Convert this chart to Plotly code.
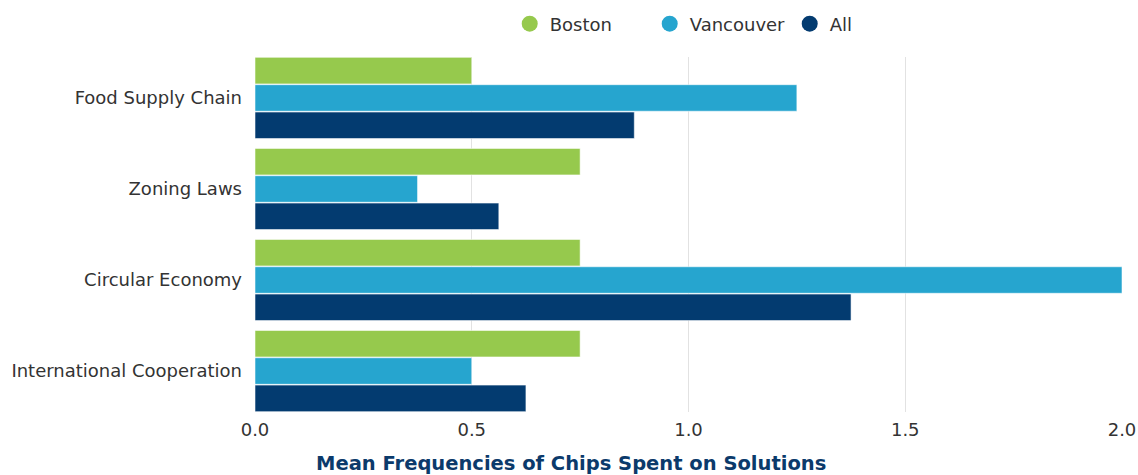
import plotly.graph_objects as go

categories = ["Food Supply Chain", "Zoning Laws", "Circular Economy", "International Cooperation"]
boston = [0.5, 0.75, 0.75, 0.75]
vancouver = [1.25, 0.375, 2.0, 0.5]
all_vals = [0.875, 0.5625, 1.375, 0.625]
series_names = ["Boston", "Vancouver", "All"]
colors = ["#96c94d", "#26a5cf", "#033b70"]
tick_vals = [0, 0.5, 1.0, 1.5, 2.0]
tick_text = ["0.0", "0.5", "1.0", "1.5", "2.0"]
x_title = "Mean Frequencies of Chips Spent on Solutions"

FONT = "DejaVu Sans"

fig = go.Figure()
for name, vals, col in zip(series_names, [boston, vancouver, all_vals], colors):
    fig.add_trace(go.Bar(
        y=categories, x=vals, orientation="h", name=name,
        marker=dict(color=col, line=dict(color="rgba(255,255,255,0.55)", width=1)),
        showlegend=False, hoverinfo="x+name",
    ))
for name, col in zip(series_names, colors):
    fig.add_trace(go.Scatter(
        x=[None], y=[None], mode="markers", name=name,
        marker=dict(color=col, size=17, symbol="circle"),
    ))

fig.update_layout(
    width=1138, height=475,
    margin=dict(l=255, r=16, t=57, b=63, autoexpand=False),
    barmode="group", bargap=0.099, bargroupgap=0.03,
    plot_bgcolor="white", paper_bgcolor="white",
    font=dict(family=FONT, size=18, color="#333333"),
    legend=dict(orientation="h", x=0.536, xanchor="center",
                yref="container", y=1 - 24 / 475, yanchor="middle",
                font=dict(family=FONT, size=18, color="#333333"),
                itemsizing="trace", itemwidth=30, traceorder="normal",
                entrywidth=95),
    xaxis=dict(range=[0, 2.0], tickvals=tick_vals, ticktext=tick_text,
               showgrid=True, gridcolor="#e2e2e2", gridwidth=1, zeroline=False,
               showline=False, ticks="", tickfont=dict(size=18, color="#333333"),
               ticklabelstandoff=5, automargin=False),
    yaxis=dict(categoryorder="array", categoryarray=categories,
               range=[3.45, -0.45], showgrid=False, zeroline=False, ticks="",
               ticklabelstandoff=12, automargin=False,
               tickfont=dict(size=18, color="#333333")),
    annotations=[dict(text="<b>" + x_title + "</b>", xref="paper", yref="paper",
                      x=(571 - 255) / 867, y=-(463 - 412) / 355,
                      xanchor="center", yanchor="middle", showarrow=False,
                      font=dict(family=FONT, size=19.5, color="#0b3a6b"))],
)

fig.write_html("out.html")
